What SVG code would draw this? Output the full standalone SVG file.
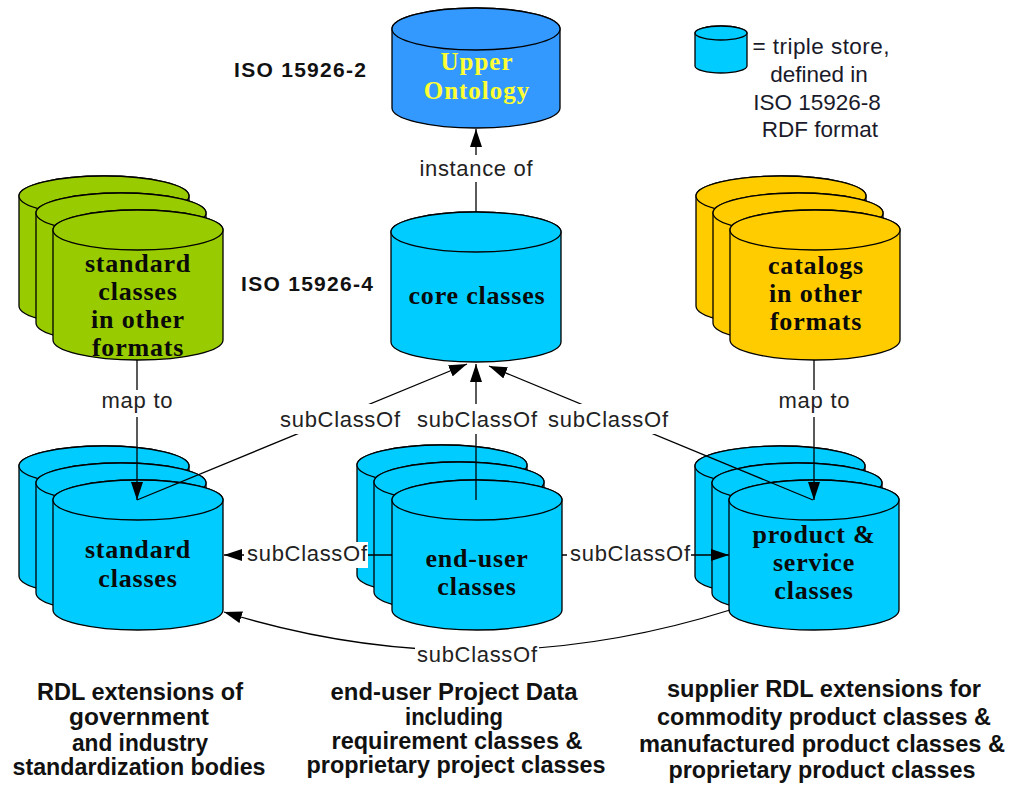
<svg xmlns="http://www.w3.org/2000/svg" xmlns:xlink="http://www.w3.org/1999/xlink" width="1010" height="787" viewBox="0 0 1010 787">
<style>
.cyl{stroke:#000;stroke-width:1.3}
.blue{fill:#00ccff}
.green{fill:#99cc00}
.yellow{fill:#ffcc00}
.upper{fill:#3399ff}
.nt{font-family:"Liberation Serif","Times New Roman",serif;font-weight:bold;font-size:26px;letter-spacing:0.8px;fill:#0a0a0a;text-anchor:middle}
.ut{font-family:"Liberation Serif","Times New Roman",serif;font-weight:bold;font-size:25px;letter-spacing:1px;fill:#ffff33;text-anchor:middle}
.iso{font-family:"Liberation Sans",Arial,sans-serif;font-weight:bold;font-size:21px;fill:#111}
.lbl{font-family:"Liberation Sans",Arial,sans-serif;font-size:22px;fill:#222;text-anchor:middle}
.leg{font-family:"Liberation Sans",Arial,sans-serif;font-size:22.5px;fill:#1a1a2a;text-anchor:middle}
.cap{font-family:"Liberation Sans",Arial,sans-serif;font-weight:bold;font-size:23px;fill:#111;text-anchor:middle}
.ln{fill:none;stroke:#000;stroke-width:1.3}
.bg{fill:#fff}
</style>
<defs>
<g id="cyl">
<path class="cyl" d="M0,20 L0,130 A85,20 0 0 0 170,130 L170,20 A85,20 0 0 0 0,20 Z"/>
<ellipse class="cyl" cx="85" cy="20" rx="85" ry="20"/>
</g>
<marker id="arr" markerWidth="18" markerHeight="12" refX="18" refY="6" orient="auto" markerUnits="userSpaceOnUse">
<path d="M0,0 L18,6 L0,12 Z" fill="#000"/>
</marker>
</defs>
<rect width="1010" height="787" fill="#fff"/>

<g id="upper-ontology">
<path class="cyl upper" d="M392,29 L392,108 A84,20 0 0 0 560,108 L560,29 A84,21 0 0 0 392,29 Z"/>
<ellipse class="cyl upper" cx="476" cy="29" rx="84" ry="21"/>
<text class="ut" x="477" y="70">Upper</text>
<text class="ut" x="477" y="99">Ontology</text>
</g>

<g id="iso-2"><text class="iso" x="234" y="77" textLength="132">ISO 15926-2</text></g>
<g id="iso-4"><text class="iso" x="241" y="291" textLength="132">ISO 15926-4</text></g>

<g id="legend">
<path class="cyl blue" d="M695,33 L695,66 A26,7 0 0 0 747,66 L747,33 A26,7 0 0 0 695,33 Z"/>
<ellipse class="cyl blue" cx="721" cy="33" rx="26" ry="7"/>
<text class="leg" x="821" y="54" textLength="137">= triple store,</text>
<text class="leg" x="819" y="82">defined in</text>
<text class="leg" x="817" y="110">ISO 15926-8</text>
<text class="leg" x="820" y="137">RDF format</text>
</g>

<g id="core-classes">
<use xlink:href="#cyl" href="#cyl" class="blue" x="391" y="212"/>
<text class="nt" x="477" y="304">core classes</text>
</g>

<g id="standard-other-formats">
<use xlink:href="#cyl" href="#cyl" class="green" x="19" y="176"/>
<use xlink:href="#cyl" href="#cyl" class="green" x="36" y="193"/>
<use xlink:href="#cyl" href="#cyl" class="green" x="53" y="210"/>
<text class="nt" x="138" y="272">standard</text>
<text class="nt" x="138" y="300">classes</text>
<text class="nt" x="138" y="328">in other</text>
<text class="nt" x="138" y="356">formats</text>
</g>

<g id="catalogs">
<use xlink:href="#cyl" href="#cyl" class="yellow" x="696" y="176"/>
<use xlink:href="#cyl" href="#cyl" class="yellow" x="713" y="193"/>
<use xlink:href="#cyl" href="#cyl" class="yellow" x="730" y="210"/>
<text class="nt" x="816" y="274">catalogs</text>
<text class="nt" x="816" y="302">in other</text>
<text class="nt" x="816" y="330">formats</text>
</g>

<g id="standard-classes">
<use xlink:href="#cyl" href="#cyl" class="blue" x="19" y="446"/>
<use xlink:href="#cyl" href="#cyl" class="blue" x="36" y="463"/>
<use xlink:href="#cyl" href="#cyl" class="blue" x="53" y="480"/>
<text class="nt" x="138" y="558">standard</text>
<text class="nt" x="138" y="587">classes</text>
</g>

<g id="end-user-classes">
<use xlink:href="#cyl" href="#cyl" class="blue" x="357" y="445"/>
<use xlink:href="#cyl" href="#cyl" class="blue" x="374" y="462"/>
<use xlink:href="#cyl" href="#cyl" class="blue" x="392" y="480"/>
<text class="nt" x="477" y="567">end-user</text>
<text class="nt" x="477" y="595">classes</text>
</g>

<g id="product-service-classes">
<use xlink:href="#cyl" href="#cyl" class="blue" x="695" y="446"/>
<use xlink:href="#cyl" href="#cyl" class="blue" x="712" y="463"/>
<use xlink:href="#cyl" href="#cyl" class="blue" x="729" y="480"/>
<text class="nt" x="814" y="543">product &amp;</text>
<text class="nt" x="814" y="571">service</text>
<text class="nt" x="814" y="599">classes</text>
</g>

<g id="connectors">
<line class="ln" x1="476" y1="212" x2="476" y2="129" marker-end="url(#arr)"/>
<rect class="bg" x="414" y="155" width="124" height="27"/>
<text class="lbl" x="476" y="176" textLength="113">instance of</text>

<line class="ln" x1="137" y1="500" x2="467" y2="364" marker-end="url(#arr)"/>
<line class="ln" x1="476" y1="500" x2="476" y2="364" marker-end="url(#arr)"/>
<line class="ln" x1="813" y1="500" x2="489" y2="366" marker-end="url(#arr)"/>
<rect class="bg" x="278" y="404" width="124" height="30"/>
<text class="lbl" x="340" y="427" textLength="120">subClassOf</text>
<rect class="bg" x="415" y="404" width="124" height="30"/>
<text class="lbl" x="477" y="427" textLength="120">subClassOf</text>
<rect class="bg" x="546" y="404" width="124" height="30"/>
<text class="lbl" x="608" y="427" textLength="120">subClassOf</text>

<line class="ln" x1="137" y1="360" x2="137" y2="500" marker-end="url(#arr)"/>
<rect class="bg" x="97" y="390" width="80" height="27"/>
<text class="lbl" x="137" y="408" textLength="71">map to</text>
<line class="ln" x1="814" y1="360" x2="814" y2="500" marker-end="url(#arr)"/>
<rect class="bg" x="774" y="390" width="80" height="27"/>
<text class="lbl" x="814" y="408" textLength="71">map to</text>

<line class="ln" x1="392" y1="555" x2="224" y2="555" marker-end="url(#arr)"/>
<rect class="bg" x="244" y="542" width="124" height="26"/>
<text class="lbl" x="307" y="561" textLength="120">subClassOf</text>
<line class="ln" x1="562" y1="555" x2="729" y2="555" marker-end="url(#arr)"/>
<rect class="bg" x="567" y="542" width="124" height="26"/>
<text class="lbl" x="630" y="561" textLength="120">subClassOf</text>

<path class="ln" d="M730,610 Q476,690 224,612" marker-end="url(#arr)"/>
<rect class="bg" x="415" y="643" width="124" height="25"/>
<text class="lbl" x="477" y="662" textLength="120">subClassOf</text>
</g>

<g id="caption-left">
<text class="cap" x="140" y="700" textLength="206" lengthAdjust="spacingAndGlyphs">RDL extensions of</text>
<text class="cap" x="139" y="725" textLength="140" lengthAdjust="spacingAndGlyphs">government</text>
<text class="cap" x="140" y="751" textLength="136" lengthAdjust="spacingAndGlyphs">and industry</text>
<text class="cap" x="139" y="775" textLength="253" lengthAdjust="spacingAndGlyphs">standardization bodies</text>
</g>
<g id="caption-middle">
<text class="cap" x="454" y="700" textLength="247" lengthAdjust="spacingAndGlyphs">end-user Project Data</text>
<text class="cap" x="454" y="725" textLength="98" lengthAdjust="spacingAndGlyphs">including</text>
<text class="cap" x="457" y="749" textLength="251" lengthAdjust="spacingAndGlyphs">requirement classes &amp;</text>
<text class="cap" x="456" y="773" textLength="299" lengthAdjust="spacingAndGlyphs">proprietary project classes</text>
</g>
<g id="caption-right">
<text class="cap" x="824" y="697" textLength="314" lengthAdjust="spacingAndGlyphs">supplier RDL extensions for</text>
<text class="cap" x="824" y="725" textLength="334" lengthAdjust="spacingAndGlyphs">commodity product classes &amp;</text>
<text class="cap" x="822" y="752" textLength="366" lengthAdjust="spacingAndGlyphs">manufactured product classes &amp;</text>
<text class="cap" x="822" y="778" textLength="307" lengthAdjust="spacingAndGlyphs">proprietary product classes</text>
</g>
</svg>
